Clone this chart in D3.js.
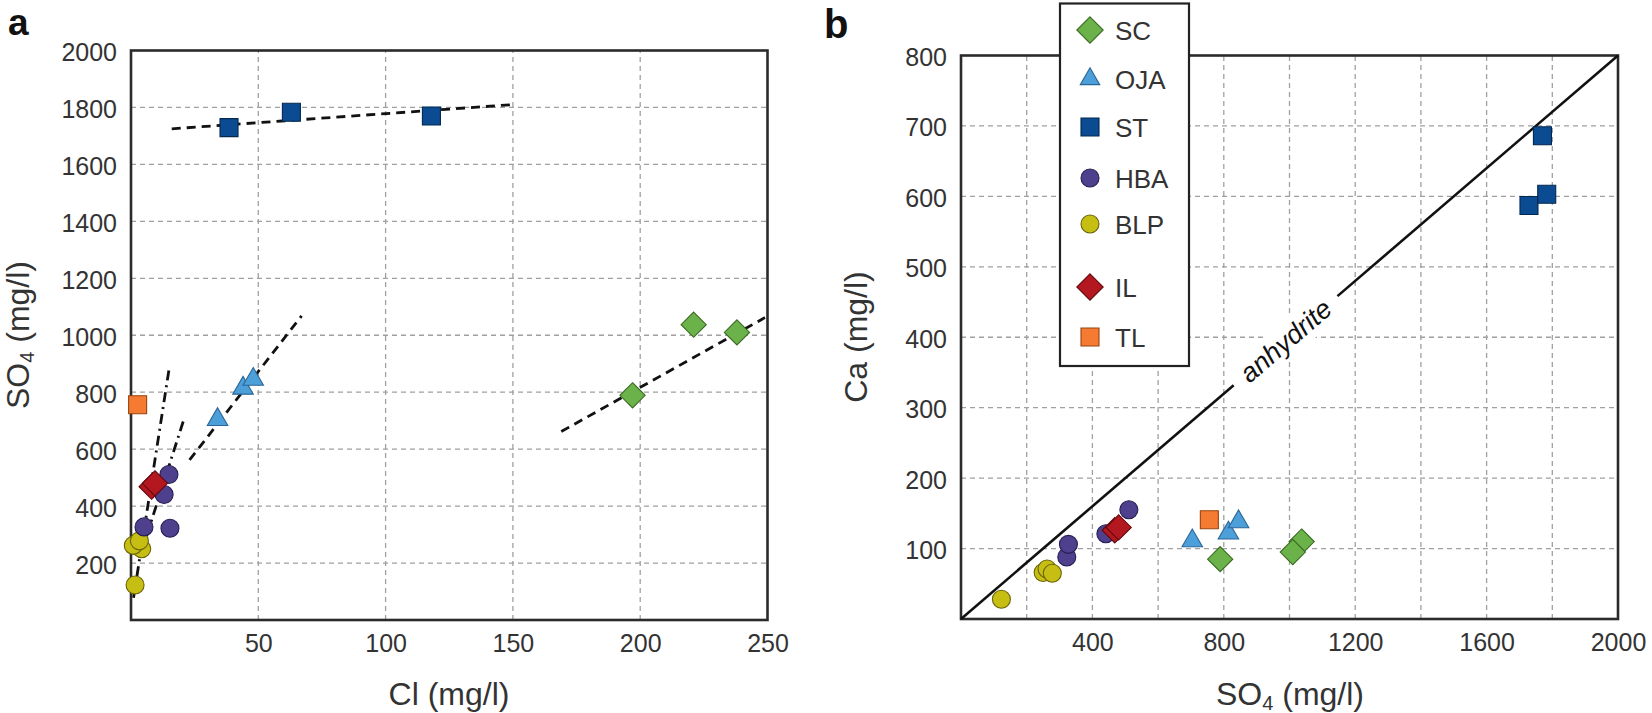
<!DOCTYPE html>
<html><head><meta charset="utf-8">
<script src="https://cdn.jsdelivr.net/npm/d3@7"></script>
<style>
body{margin:0;background:#fff}
svg{display:block}
text{font-family:"Liberation Sans",Arial,sans-serif}
</style>
</head><body>
<svg id="c" width="1652" height="713"></svg>
<script>
// ---------- data ----------
const groups = ["SC","OJA","ST","HBA","BLP","IL","TL"];
const clSC  = [197, 221, 238],      so4SC  = [789, 1037, 1010],     caSC  = [85, 110, 95];
const clOJA = [34, 44, 48],         so4OJA = [704, 814, 845],       caOJA = [111, 122, 138];
const clST  = [38.5, 63, 118],      so4ST  = [1729, 1783, 1770],    caST  = [587, 603, 686];
const clHBA = [14.9, 13, 15.3, 5.1],so4HBA = [511, 441, 322, 327],  caHBA = [155, 121, 88, 106];
const clBLP = [1.6, 4.2, 0.9, 3.3], so4BLP = [123, 250, 262, 278],  caBLP = [28, 66, 71, 65];
const clIL  = [8.1, 9.4],           so4IL  = [468, 480],            caIL  = [126, 130];
const clTL  = [2.6],                so4TL  = [756],                 caTL  = [141];

// trend lines in panel a (Cl, SO4 endpoints)
const trendCl1  = [16, 150],  trendSO41  = [1725, 1810];  // ST
const trendCl2  = [23, 67],   trendSO42  = [562, 1068];   // OJA
const trendCl3  = [169, 249], trendSO43  = [662, 1062];   // SC
const trendCl4  = [1, 15],    trendSO44  = [78, 884];     // dash-dot 1
const trendCl5  = [3.5, 20.5],trendSO45  = [222, 697];    // dash-dot 2

// anhydrite line (SO4, Ca), drawn with a gap for the label
const anhSO4 = [0, 830, 1146, 2000];
const anhCa  = [0, 332, 458.4, 800];
const anhLabelSO4 = 988, anhLabelCa = 395;

const xTicksA = [50, 100, 150, 200, 250];
const yTicksA = [200, 400, 600, 800, 1000, 1200, 1400, 1600, 1800, 2000];
const xGridA  = [50, 100, 150, 200];
const yGridA  = [200, 400, 600, 800, 1000, 1200, 1400, 1600, 1800];
const xTicksB = [400, 800, 1200, 1600, 2000];
const yTicksB = [100, 200, 300, 400, 500, 600, 700, 800];
const xGridB  = [200, 400, 600, 800, 1000, 1200, 1400, 1600, 1800];
const yGridB  = [100, 200, 300, 400, 500, 600, 700];

// ---------- styles ----------
const style = {
  SC:  {fill:"#6cb24a", stroke:"#3a6a22", shape:"diamond"},
  OJA: {fill:"#4d9fda", stroke:"#2a6698", shape:"triangle"},
  ST:  {fill:"#0b4b91", stroke:"#05284f", shape:"square"},
  HBA: {fill:"#4f408e", stroke:"#271e52", shape:"circle"},
  BLP: {fill:"#c7be14", stroke:"#6a6508", shape:"circle"},
  IL:  {fill:"#b3171f", stroke:"#640a0e", shape:"diamond"},
  TL:  {fill:"#f47b31", stroke:"#98440f", shape:"square"}
};
const dataMap = {
  SC:{cl:clSC,so4:so4SC,ca:caSC}, OJA:{cl:clOJA,so4:so4OJA,ca:caOJA},
  ST:{cl:clST,so4:so4ST,ca:caST}, HBA:{cl:clHBA,so4:so4HBA,ca:caHBA},
  BLP:{cl:clBLP,so4:so4BLP,ca:caBLP}, IL:{cl:clIL,so4:so4IL,ca:caIL},
  TL:{cl:clTL,so4:so4TL,ca:caTL}
};
const drawOrder = ["BLP","HBA","IL","TL","OJA","SC","ST"];

function shapePath(shape, s){
  if(shape==="circle") return d3.symbol(d3.symbolCircle, Math.PI*(s/2)*(s/2))();
  if(shape==="square") return d3.symbol(d3.symbolSquare, s*s)();
  if(shape==="triangle") return d3.symbol(d3.symbolTriangle, s*s*Math.sqrt(3)/4*1.05)();
  if(shape==="diamond"){ const h=s*0.6; return `M0,${-h}L${h},0L0,${h}L${-h},0Z`; }
}

const svg = d3.select("#c");
const FONT_TICK = 25, FONT_TITLE = 32, TXT = "#333";

function panel(xs, ys, xTicks, yTicks, xGrid, yGrid){
  const [x0,x1] = xs.range(), [y0,y1] = ys.range();
  const g = svg.append("g");
  g.selectAll(".gx").data(xGrid).join("line")
    .attr("x1",d=>xs(d)).attr("x2",d=>xs(d)).attr("y1",y0).attr("y2",y1)
    .attr("stroke","#a0a0a0").attr("stroke-width",1.3).attr("stroke-dasharray","5,4");
  g.selectAll(".gy").data(yGrid).join("line")
    .attr("y1",d=>ys(d)).attr("y2",d=>ys(d)).attr("x1",x0).attr("x2",x1)
    .attr("stroke","#a0a0a0").attr("stroke-width",1.3).attr("stroke-dasharray","5,4");
  const ax = svg.append("g").attr("transform",`translate(0,${y0})`)
    .call(d3.axisBottom(xs).tickValues(xTicks).tickSize(0).tickPadding(14).tickFormat(d3.format("d")));
  const ay = svg.append("g").attr("transform",`translate(${x0},0)`)
    .call(d3.axisLeft(ys).tickValues(yTicks).tickSize(0).tickPadding(14).tickFormat(d3.format("d")));
  [ax,ay].forEach(a=>{
    a.select(".domain").remove();
    a.selectAll("text").attr("font-size",FONT_TICK).attr("fill",TXT)
      .attr("font-family",'"Liberation Sans",Arial,sans-serif');
  });
  ay.selectAll("text").attr("dy","0.4em");
  return g;
}
function frame(xs, ys){
  const [x0,x1] = xs.range(), [y0,y1] = ys.range();
  svg.append("rect").attr("x",x0).attr("y",y1).attr("width",x1-x0).attr("height",y0-y1)
    .attr("fill","none").attr("stroke","#2b2b2b").attr("stroke-width",2.6);
}
function markers(xs, ys, xKey, yKey){
  const g = svg.append("g");
  drawOrder.forEach(k=>{
    const d = dataMap[k], st = style[k];
    const pts = d[xKey].map((v,i)=>[v, d[yKey][i]]);
    const size = st.shape==="diamond" ? 21 : (st.shape==="triangle" ? 20 : 18);
    g.selectAll(null).data(pts).join("path")
      .attr("d", shapePath(st.shape, size))
      .attr("transform", p=>`translate(${xs(p[0])},${ys(p[1])})`)
      .attr("fill", st.fill).attr("stroke", st.stroke).attr("stroke-width",1.1);
  });
}

// ---------- panel a ----------
const xA = d3.scaleLinear([0,250],[131,767.5]);
const yA = d3.scaleLinear([0,2000],[620,50.5]);
panel(xA, yA, xTicksA, yTicksA, xGridA, yGridA);
frame(xA, yA);

const trends = [
  {cl:trendCl1, so4:trendSO41, dash:"9,6"},
  {cl:trendCl2, so4:trendSO42, dash:"9,6"},
  {cl:trendCl3, so4:trendSO43, dash:"9,6"},
  {cl:trendCl4, so4:trendSO44, dash:"10,5,2,5"},
  {cl:trendCl5, so4:trendSO45, dash:"10,5,2,5"}
];
trends.forEach(t=>{
  svg.append("line")
    .attr("x1",xA(t.cl[0])).attr("y1",yA(t.so4[0]))
    .attr("x2",xA(t.cl[1])).attr("y2",yA(t.so4[1]))
    .attr("stroke","#111").attr("stroke-width",2.8).attr("stroke-dasharray",t.dash);
});
markers(xA, yA, "cl", "so4");

// ---------- panel b ----------
const xB = d3.scaleLinear([0,2000],[961,1618]);
const yB = d3.scaleLinear([0,800],[619,55.5]);
panel(xB, yB, xTicksB, yTicksB, xGridB, yGridB);
frame(xB, yB);

[[0,1],[2,3]].forEach(([a,b])=>{
  svg.append("line").attr("x1",xB(anhSO4[a])).attr("y1",yB(anhCa[a]))
    .attr("x2",xB(anhSO4[b])).attr("y2",yB(anhCa[b]))
    .attr("stroke","#111").attr("stroke-width",2.6);
});
const ang = Math.atan2(yB(anhCa[3])-yB(anhCa[0]), xB(anhSO4[3])-xB(anhSO4[0]))*180/Math.PI;
const lbl = svg.append("g").attr("transform",`translate(${xB(anhLabelSO4)},${yB(anhLabelCa)}) rotate(${ang})`);
lbl.append("rect").attr("x",-66).attr("y",-17).attr("width",132).attr("height",34).attr("fill","#fff");
lbl.append("text").attr("text-anchor","middle").attr("dy","0.35em")
  .attr("font-size",27).attr("font-style","italic").attr("fill","#111").text("anhydrite");

markers(xB, yB, "so4", "ca");

// ---------- legend ----------
const leg = svg.append("g");
leg.append("rect").attr("x",1060).attr("y",3.5).attr("width",129).attr("height",362.5)
  .attr("fill","#fff").attr("stroke","#222").attr("stroke-width",2.2);
const legY = [30, 79, 127, 178, 224, 287, 337];
groups.forEach((k,i)=>{
  const st = style[k];
  const size = st.shape==="diamond" ? 22 : (st.shape==="triangle" ? 19 : 18);
  leg.append("path").attr("d",shapePath(st.shape,size))
    .attr("transform",`translate(1090,${legY[i]})`)
    .attr("fill",st.fill).attr("stroke",st.stroke).attr("stroke-width",1.1);
  leg.append("text").attr("x",1115).attr("y",legY[i]).attr("dy","0.37em")
    .attr("font-size",26).attr("fill",TXT).text(k);
});

// ---------- titles ----------
function so4Title(sel){
  sel.append("tspan").text("SO");
  sel.append("tspan").attr("font-size",20).attr("dy",5).text("4");
  sel.append("tspan").attr("dy",-5).text(" (mg/l)");
}
svg.append("text").attr("x",449).attr("y",705).attr("text-anchor","middle")
  .attr("font-size",FONT_TITLE).attr("fill",TXT).text("Cl (mg/l)");
svg.append("text").attr("x",1290).attr("y",705).attr("text-anchor","middle")
  .attr("font-size",FONT_TITLE).attr("fill",TXT).call(so4Title);
svg.append("text").attr("transform","translate(29,335) rotate(-90)").attr("text-anchor","middle")
  .attr("font-size",FONT_TITLE).attr("fill",TXT).call(so4Title);
svg.append("text").attr("transform","translate(867,337) rotate(-90)").attr("text-anchor","middle")
  .attr("font-size",FONT_TITLE).attr("fill",TXT).text("Ca (mg/l)");

svg.append("text").attr("x",8).attr("y",35).attr("font-size",37).attr("font-weight","bold")
  .attr("fill","#111").text("a");
svg.append("text").attr("x",824).attr("y",38).attr("font-size",40).attr("font-weight","bold")
  .attr("fill","#111").text("b");
</script>
</body></html>
